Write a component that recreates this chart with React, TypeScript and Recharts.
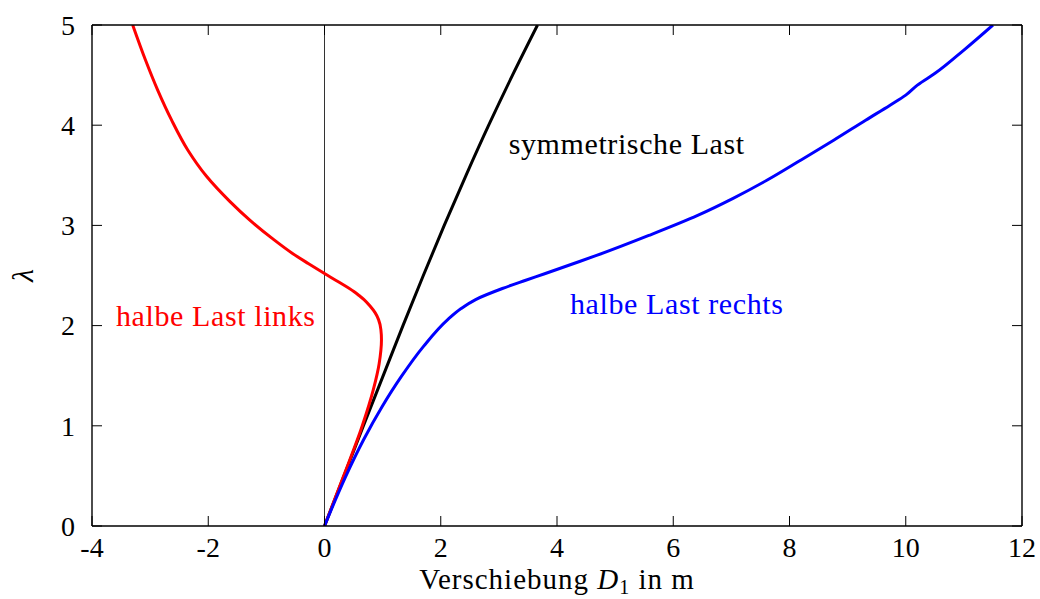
import React from 'react';
import { LineChart, Line, XAxis, YAxis, ReferenceLine, ReferenceDot } from 'recharts';

const FONT = 'Liberation Serif';
const FS = 30;
const TICK_FS = 28;
const LS = 0.6;

const xTicks = [-4, -2, 0, 2, 4, 6, 8, 10, 12];
const yTicks = [0, 1, 2, 3, 4, 5];

// symmetrische Last
const symLambda = [0, 1, 2, 2.5, 3, 3.5, 4, 4.5, 5];
const symD = [0, 0.67, 1.35, 1.7, 2.06, 2.435, 2.825, 3.235, 3.665];

// halbe Last links
const leftLambda = [0, 0.5, 1.0, 1.36, 1.62, 1.86, 1.96, 2.06, 2.13, 2.19, 2.26, 2.3, 2.34, 2.44, 2.52, 2.62, 2.72, 2.87, 3.05, 3.24, 3.49, 3.75, 4.05, 4.35, 4.65, 5.0];
const leftD = [0, 0.33, 0.65, 0.84, 0.94, 0.98, 0.97, 0.93, 0.87, 0.79, 0.68, 0.595, 0.505, 0.23, 0, -0.28, -0.55, -0.9, -1.28, -1.63, -2.03, -2.35, -2.63, -2.87, -3.08, -3.3];

// halbe Last rechts
const rightLambda = [0, 0.476, 0.858, 1.19, 1.49, 1.79, 2.06, 2.17, 2.26, 2.37, 2.45, 2.52, 2.61, 2.7, 2.9, 3.1, 3.27, 3.45, 3.65, 3.85, 4.05, 4.2, 4.3, 4.4, 4.52, 4.75, 5.0];
const rightD = [0, 0.35, 0.67, 0.99, 1.32, 1.7, 2.12, 2.35, 2.6, 3.06, 3.45, 3.8, 4.24, 4.68, 5.58, 6.42, 7.03, 7.61, 8.19, 8.76, 9.31, 9.73, 10.0, 10.2, 10.51, 11.0, 11.5];

const labelTexts = ['symmetrische Last', 'halbe Last links', 'halbe Last rechts'];
const labelX = [5.2, -1.87, 6.06];
const labelY = [3.82, 2.1, 2.22];
const labelColors = ['#000000', '#ff0000', '#0000ff'];

const toPts = (d: number[], l: number[]) => d.map((v, i) => ({ x: v, y: l[i] }));
const symData = toPts(symD, symLambda);
const leftData = toPts(leftD, leftLambda);
const rightData = toPts(rightD, rightLambda);

const TICK = 10;
const tickStyle = { fontFamily: FONT, fontSize: TICK_FS };

const BottomTick = (props: any) => {
  const { x, y, payload } = props;
  return (
    <g>
      <line x1={x} x2={x} y1={y} y2={y - TICK} stroke="#000" strokeWidth={1} />
      <text x={x} y={y + 11} dy="0.71em" textAnchor="middle" style={tickStyle} fill="#000">
        {String(payload.value)}
      </text>
    </g>
  );
};

const TopTick = (props: any) => {
  const { x, y } = props;
  return <line x1={x} x2={x} y1={y} y2={y + TICK} stroke="#000" strokeWidth={1} />;
};

const LeftTick = (props: any) => {
  const { x, y, payload } = props;
  return (
    <g>
      <line x1={x} x2={x + TICK} y1={y} y2={y} stroke="#000" strokeWidth={1} />
      <text x={x - 17} y={y} dy="0.35em" textAnchor="end" style={tickStyle} fill="#000">
        {String(payload.value)}
      </text>
    </g>
  );
};

const RightTick = (props: any) => {
  const { x, y } = props;
  return <line x1={x} x2={x - TICK} y1={y} y2={y} stroke="#000" strokeWidth={1} />;
};

const XLabel = (props: any) => {
  const vb = props.viewBox || {};
  const cx = vb.x + vb.width / 2;
  return (
    <text x={cx} y={589} textAnchor="middle" style={{ fontFamily: FONT, fontSize: 29, letterSpacing: 1.0 }} fill="#000">
      Verschiebung <tspan style={{ fontStyle: 'italic' }}>D</tspan>
      <tspan style={{ fontSize: 20 }} dy={5}>1</tspan>
      <tspan dy={-5}> in m</tspan>
    </text>
  );
};

const YLabel = (props: any) => {
  const vb = props.viewBox || {};
  const cy = vb.y + vb.height / 2;
  return (
    <text x={22} y={cy} textAnchor="middle" dy="0.35em" style={{ fontFamily: FONT, fontSize: FS, fontStyle: 'italic' }} fill="#000" transform={`rotate(-90 22 ${cy})`}>
      λ
    </text>
  );
};

export default function App() {
  return (
    <div style={{ position: 'absolute', left: 0, top: 0, width: 1040, height: 599, background: '#fff' }}>
      <LineChart width={1040} height={599} margin={{ top: 20, right: 10, left: 32, bottom: 23 }}>
        <XAxis xAxisId="b" dataKey="x" type="number" domain={[-4, 12]} ticks={xTicks} allowDataOverflow height={50} tickSize={0} tickMargin={0} tickLine={false} axisLine={{ stroke: '#000', strokeWidth: 1.4 }} tick={<BottomTick />} label={<XLabel />} interval={0} />
        <XAxis xAxisId="t" orientation="top" dataKey="x" type="number" domain={[-4, 12]} ticks={xTicks} allowDataOverflow height={5} tickSize={0} tickMargin={0} tickLine={false} axisLine={{ stroke: '#000', strokeWidth: 1.4 }} tick={<TopTick />} interval={0} />
        <YAxis yAxisId="l" dataKey="y" type="number" domain={[0, 5]} ticks={yTicks} allowDataOverflow width={60} tickSize={0} tickMargin={0} tickLine={false} axisLine={{ stroke: '#000', strokeWidth: 1.4 }} tick={<LeftTick />} label={<YLabel />} interval={0} />
        <YAxis yAxisId="r" orientation="right" dataKey="y" type="number" domain={[0, 5]} ticks={yTicks} allowDataOverflow width={8} tickSize={0} tickMargin={0} tickLine={false} axisLine={{ stroke: '#000', strokeWidth: 1.4 }} tick={<RightTick />} interval={0} />
        <ReferenceLine xAxisId="b" yAxisId="l" x={0} stroke="#333" strokeWidth={1} />
        <Line xAxisId="b" yAxisId="l" data={symData} dataKey="y" type="monotoneY" stroke="#000" strokeWidth={3} dot={false} isAnimationActive={false} />
        <Line xAxisId="b" yAxisId="l" data={leftData} dataKey="y" type="monotoneY" stroke="#ff0000" strokeWidth={3} dot={false} isAnimationActive={false} />
        <Line xAxisId="b" yAxisId="l" data={rightData} dataKey="y" type="monotoneY" stroke="#0000ff" strokeWidth={3} dot={false} isAnimationActive={false} />
        {labelTexts.map((t, i) => (
          <ReferenceDot
            key={t}
            xAxisId="b"
            yAxisId="l"
            x={labelX[i]}
            y={labelY[i]}
            r={0}
            stroke="none"
            fill="none"
            label={{ value: t, position: 'center', fill: labelColors[i], style: { fontSize: FS, fontFamily: FONT, letterSpacing: LS } }}
          />
        ))}
      </LineChart>
    </div>
  );
}
